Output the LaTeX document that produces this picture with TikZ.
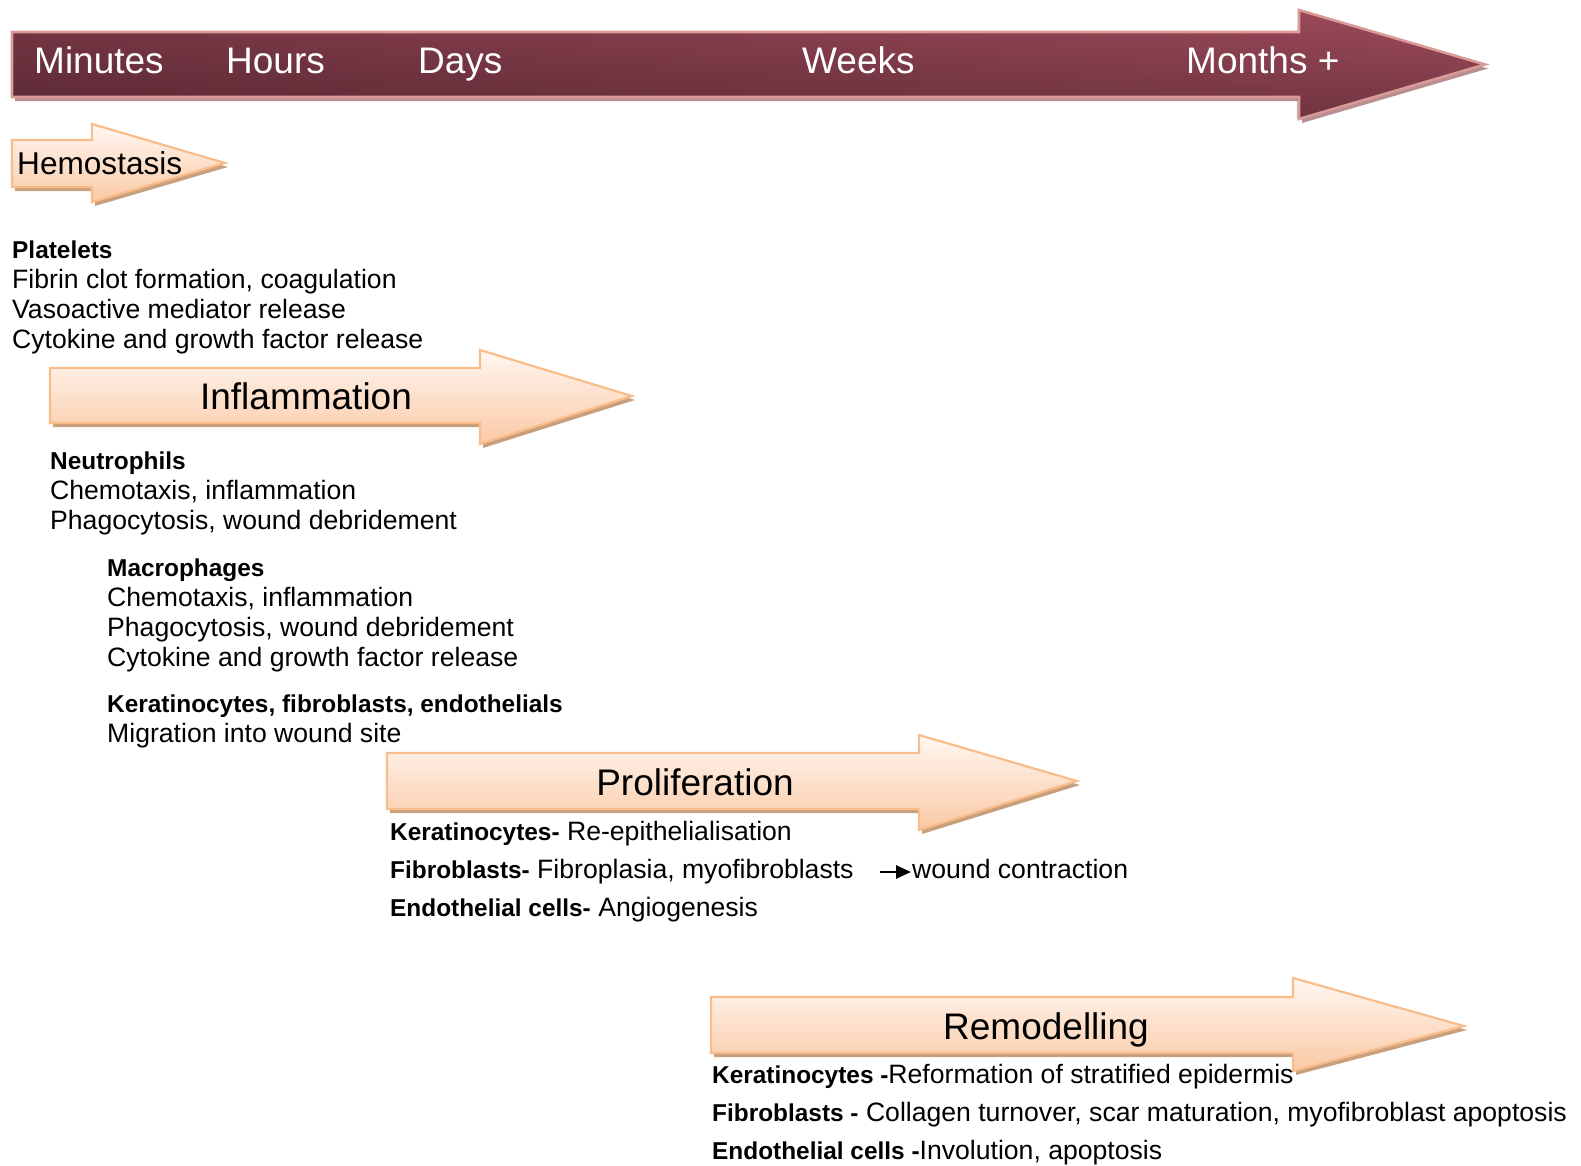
\documentclass[tikz,border=0pt]{standalone}
\usepackage{fontspec}
\setmainfont{Liberation Sans}
\usetikzlibrary{arrows.meta,fadings}
\definecolor{phtop}{HTML}{FFF7F2}
\definecolor{phbottom}{HTML}{FAC9A4}
\definecolor{phborder}{HTML}{F9BD8B}
\definecolor{phshadow}{HTML}{C9A07E}
\definecolor{banleft}{HTML}{7A3846}
\definecolor{banright}{HTML}{A04B5C}
\definecolor{banborder}{HTML}{DA9A98}
\definecolor{banshadow}{HTML}{B88E90}
\tikzfading[name=darkdown, top color=transparent!100, bottom color=transparent!0]
\newcommand{\blockarrow}[9]{%
  \path[#1] (#2,#3) -- (#5,#3) -- (#5,#6) -- (#7,#8) -- (#5,#9) -- (#5,#4) -- (#2,#4) -- cycle;}
\newcommand{\bt}[1]{{\fontsize{24.4}{30}\selectfont\bfseries #1}}
\begin{document}
\begin{tikzpicture}[x=1pt,y=-1pt,
  phshad/.style={fill=phshadow, shift={(3,4)}},
  phbody/.style={draw=phborder, line width=2.2pt, top color=phtop, bottom color=phbottom, line join=miter},
  banshad/.style={fill=banshadow, shift={(3,4)}},
  banbody/.style={left color=banleft, right color=banright},
  bandark/.style={fill=black, fill opacity=0.28, path fading=darkdown},
  banline/.style={draw=banborder, line width=2.6pt, line join=miter},
  bantext/.style={anchor=west, inner sep=0pt, text height=26.5pt, text depth=0pt, text=white, font=\fontsize{37}{40}\selectfont},
  phtext/.style={anchor=center, inner sep=0pt, text height=26.5pt, text depth=0pt, font=\fontsize{37}{40}\selectfont},
  ln/.style={anchor=west, inner sep=0pt, text height=19pt, text depth=0pt, font=\fontsize{26.6}{30}\selectfont},
]
\useasboundingbox (0,0) rectangle (1581,1165);
\fill[white] (0,0) rectangle (1581,1165);

% timeline banner
\blockarrow{banshad}{12}{32}{97}{1299}{10}{1485}{64.5}{119}
\blockarrow{banbody}{12}{32}{97}{1299}{10}{1485}{64.5}{119}
\blockarrow{bandark}{12}{32}{97}{1299}{10}{1485}{64.5}{119}
\blockarrow{banline}{12}{32}{97}{1299}{10}{1485}{64.5}{119}
\node[bantext] (minutes) at (34,60.5) {Minutes};
\node[bantext] (hours) at (226,60.5) {Hours};
\node[bantext] (days) at (418,60.5) {Days};
\node[bantext] (weeks) at (802,60.5) {Weeks};
\node[bantext] (months) at (1186,60.5) {Months +};

% Hemostasis
\blockarrow{phshad}{12}{140}{187}{92}{124}{225}{163}{202}
\blockarrow{phbody}{12}{140}{187}{92}{124}{225}{163}{202}
\node[anchor=west, inner sep=0pt, text height=22.6pt, text depth=0pt, font=\fontsize{31.6}{34}\selectfont] (hemo) at (17,163.5) {Hemostasis};
\node[ln] (plt) at (12,249) {\bt{Platelets}};
\node[ln] (plt1) at (12,279) {Fibrin clot formation, coagulation};
\node[ln] (plt2) at (12,309) {Vasoactive mediator release};
\node[ln] (plt3) at (12,339) {Cytokine and growth factor release};

% Inflammation
\blockarrow{phshad}{50}{368}{423}{480}{350}{632}{396}{444}
\blockarrow{phbody}{50}{368}{423}{480}{350}{632}{396}{444}
\node[phtext] (infl) at (306,396) {Inflammation};
\node[ln] (neu) at (50,460) {\bt{Neutrophils}};
\node[ln] (neu1) at (50,490) {Chemotaxis, inflammation};
\node[ln] (neu2) at (50,520) {Phagocytosis, wound debridement};
\node[ln] (mac) at (107,567) {\bt{Macrophages}};
\node[ln] (mac1) at (107,597) {Chemotaxis, inflammation};
\node[ln] (mac2) at (107,627) {Phagocytosis, wound debridement};
\node[ln] (mac3) at (107,657) {Cytokine and growth factor release};
\node[ln] (ker) at (107,703) {\bt{Keratinocytes, fibroblasts, endothelials}};
\node[ln] (ker1) at (107,733) {Migration into wound site};

% Proliferation
\blockarrow{phshad}{387}{753}{809}{919}{735}{1077}{781}{830}
\blockarrow{phbody}{387}{753}{809}{919}{735}{1077}{781}{830}
\node[phtext] (prol) at (695,782) {Proliferation};
\node[ln] (pk) at (390,831) {\bt{Keratinocytes-} Re-epithelialisation};
\node[ln] (pf) at (390,869) {\bt{Fibroblasts-} Fibroplasia, myofibroblasts};
\node[ln] (pw) at (912,869) {wound contraction};
\coordinate (wa1) at (880,872);
\coordinate (wa2) at (911,872);
\draw[line width=2.6pt, -{Triangle[length=15pt,width=13pt]}] (wa1) -- (wa2);
\node[ln] (pe) at (390,907) {\bt{Endothelial cells-} Angiogenesis};

% Remodelling
\blockarrow{phshad}{711}{997}{1053}{1293}{978}{1464}{1026}{1071}
\blockarrow{phbody}{711}{997}{1053}{1293}{978}{1464}{1026}{1071}
\node[phtext] (remo) at (1046,1026) {Remodelling};
\node[ln] (rk) at (712,1074) {\bt{Keratinocytes -}Reformation of stratified epidermis};
\node[ln] (rf) at (712,1112) {\bt{Fibroblasts -} Collagen turnover, scar maturation, myofibroblast apoptosis};
\node[ln] (re) at (712,1150) {\bt{Endothelial cells -}Involution, apoptosis};
\end{tikzpicture}
\end{document}
